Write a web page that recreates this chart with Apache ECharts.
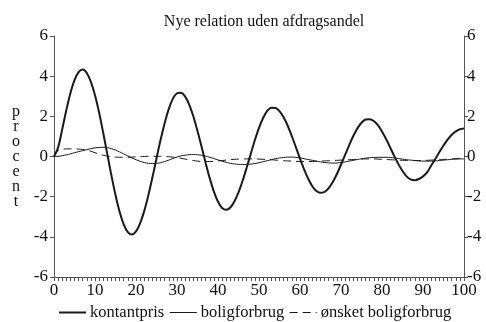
<!DOCTYPE html>
<html>
<head>
<meta charset="utf-8">
<script src="https://cdn.jsdelivr.net/npm/echarts@6/dist/echarts.min.js"></script>
<style>html,body{margin:0;padding:0;background:#fff}#c{width:486px;height:322px}</style>
</head>
<body>
<div id="c"></div>
<script>
var title = 'Nye relation uden afdragsandel';
var yName = 'procent';
var seriesNames = ['kontantpris', 'boligforbrug', 'ønsket boligforbrug'];
var xs = [];
for (var i = 0; i <= 100; i++) xs.push(i);

var kontantpris = [
0,0.45,1.35,2.3,3.15,3.8,4.2,4.33,4.16,3.72,
3.05,2.19,1.18,0.12,-0.94,-1.92,-2.75,-3.38,-3.77,-3.88,
-3.73,-3.33,-2.72,-1.94,-1.05,-0.10,0.83,1.67,2.37,2.88,
3.15,3.18,2.98,2.57,1.99,1.27,0.48,-0.33,-1.09,-1.75,
-2.25,-2.56,-2.65,-2.54,-2.24,-1.79,-1.21,-0.55,0.14,0.82,
1.43,1.92,2.27,2.43,2.42,2.26,1.95,1.53,1.02,0.46,
-0.11,-0.64,-1.11,-1.48,-1.72,-1.81,-1.76,-1.57,-1.27,-0.87,
-0.41,0.08,0.57,1.02,1.40,1.68,1.84,1.86,1.77,1.56,
1.25,0.87,0.45,0.02,-0.38,-0.72,-0.99,-1.14,-1.18,-1.12,
-0.99,-0.79,-0.45,-0.12,0.22,0.55,0.84,1.08,1.25,1.36,
1.40];

var boligforbrug = [
0,0.01,0.04,0.08,0.13,0.19,0.24,0.29,0.34,0.39,
0.43,0.45,0.46,0.44,0.39,0.32,0.23,0.13,0.03,-0.07,
-0.16,-0.24,-0.30,-0.34,-0.35,-0.34,-0.31,-0.25,-0.18,-0.10,
-0.03,0.03,0.07,0.09,0.10,0.09,0.06,0.02,-0.04,-0.10,
-0.17,-0.23,-0.29,-0.34,-0.37,-0.39,-0.40,-0.40,-0.38,-0.35,
-0.31,-0.26,-0.21,-0.16,-0.11,-0.07,-0.05,-0.03,-0.03,-0.04,
-0.07,-0.11,-0.15,-0.19,-0.23,-0.27,-0.30,-0.32,-0.33,-0.32,
-0.30,-0.27,-0.23,-0.19,-0.15,-0.11,-0.08,-0.06,-0.05,-0.04,
-0.04,-0.04,-0.05,-0.07,-0.10,-0.13,-0.16,-0.18,-0.20,-0.22,
-0.23,-0.23,-0.23,-0.22,-0.20,-0.18,-0.16,-0.14,-0.13,-0.12,
-0.12];

var onsket = [
0,0.30,0.36,0.38,0.38,0.38,0.37,0.35,0.32,0.26,
0.19,0.12,0.06,0.02,-0.01,-0.03,-0.04,-0.04,-0.04,-0.03,
-0.02,-0.01,0,0.01,0.01,0.01,0.01,0,-0.01,-0.03,
-0.06,-0.09,-0.13,-0.17,-0.20,-0.23,-0.25,-0.25,-0.25,-0.24,
-0.22,-0.20,-0.18,-0.16,-0.14,-0.13,-0.12,-0.12,-0.12,-0.12,
-0.13,-0.14,-0.15,-0.16,-0.18,-0.19,-0.21,-0.22,-0.23,-0.24,
-0.25,-0.25,-0.25,-0.25,-0.24,-0.23,-0.22,-0.21,-0.20,-0.19,
-0.18,-0.17,-0.16,-0.15,-0.14,-0.13,-0.12,-0.12,-0.12,-0.13,
-0.14,-0.15,-0.16,-0.17,-0.18,-0.19,-0.20,-0.20,-0.20,-0.20,
-0.20,-0.19,-0.18,-0.17,-0.16,-0.15,-0.13,-0.12,-0.10,-0.09,
-0.08];

function pairs(ys) { return xs.map(function (x, i) { return [x, ys[i]]; }); }

var FONT = '"Liberation Serif", "Times New Roman", serif';
var INK = '#111';
var AX = '#555';
var FS = 17;
var lineWidths = [2, 1, 1];
var lineTypes = ['solid', 'solid', [8, 5]];

var chart = echarts.init(document.getElementById('c'), null, {renderer: 'canvas'});

function yAxisCfg(pos) {
  return {
    type: 'value', position: pos, min: -6, max: 6, interval: 2,
    axisLine: {show: true, onZero: false, lineStyle: {color: AX, width: 1}},
    axisTick: {show: true, inside: false, length: 4, lineStyle: {color: AX}},
    axisLabel: {color: INK, fontFamily: FONT, fontSize: FS, margin: pos === 'left' ? 6 : 3},
    splitLine: {show: false}
  };
}

var yl = yAxisCfg('left');
yl.name = yName.split('').join('\n');
yl.nameLocation = 'middle';
yl.nameRotate = 0;
yl.nameGap = 38;
yl.nameTextStyle = {color: INK, fontFamily: FONT, fontSize: 16, lineHeight: 15, align: 'center', verticalAlign: 'middle', padding: [0, 0, 10, 0]};

var seriesData = [kontantpris, boligforbrug, onsket];

chart.setOption({
  animation: false,
  backgroundColor: '#fff',
  title: {
    text: title, left: 259, top: 9, textAlign: 'center',
    textStyle: {fontFamily: FONT, fontSize: 16, fontWeight: 'normal', color: INK}
  },
  grid: {left: 54, right: 22, top: 36, bottom: 45, containLabel: false},
  legend: {
    data: seriesNames.map(function (n, i) {
      return {name: n, lineStyle: {width: lineWidths[i], type: lineTypes[i]}};
    }),
    left: 53, top: 299, padding: [5, 5, 5, 5],
    itemWidth: 27, itemHeight: 8, itemGap: 5,
    itemStyle: {opacity: 0},
    textStyle: {fontFamily: FONT, fontSize: 16.5, color: INK, padding: [0, 0, 0, -1]}
  },
  xAxis: {
    type: 'value', min: 0, max: 100, interval: 10,
    axisLine: {show: true, onZero: false, lineStyle: {color: AX, width: 1}},
    axisTick: {show: true, inside: false, length: 4, lineStyle: {color: AX}},
    minorTick: {show: true, splitNumber: 10, length: 4, lineStyle: {color: AX}},
    axisLabel: {color: INK, fontFamily: FONT, fontSize: FS, margin: 5},
    splitLine: {show: false}
  },
  yAxis: [yl, yAxisCfg('right')],
  series: seriesNames.map(function (n, i) {
    return {
      name: n, type: 'line', data: pairs(seriesData[i]), showSymbol: false, symbol: 'none', smooth: 0.3,
      lineStyle: {color: '#1a1a1a', width: lineWidths[i], type: lineTypes[i]}, itemStyle: {color: '#1a1a1a'}
    };
  })
});
</script>
</body>
</html>
